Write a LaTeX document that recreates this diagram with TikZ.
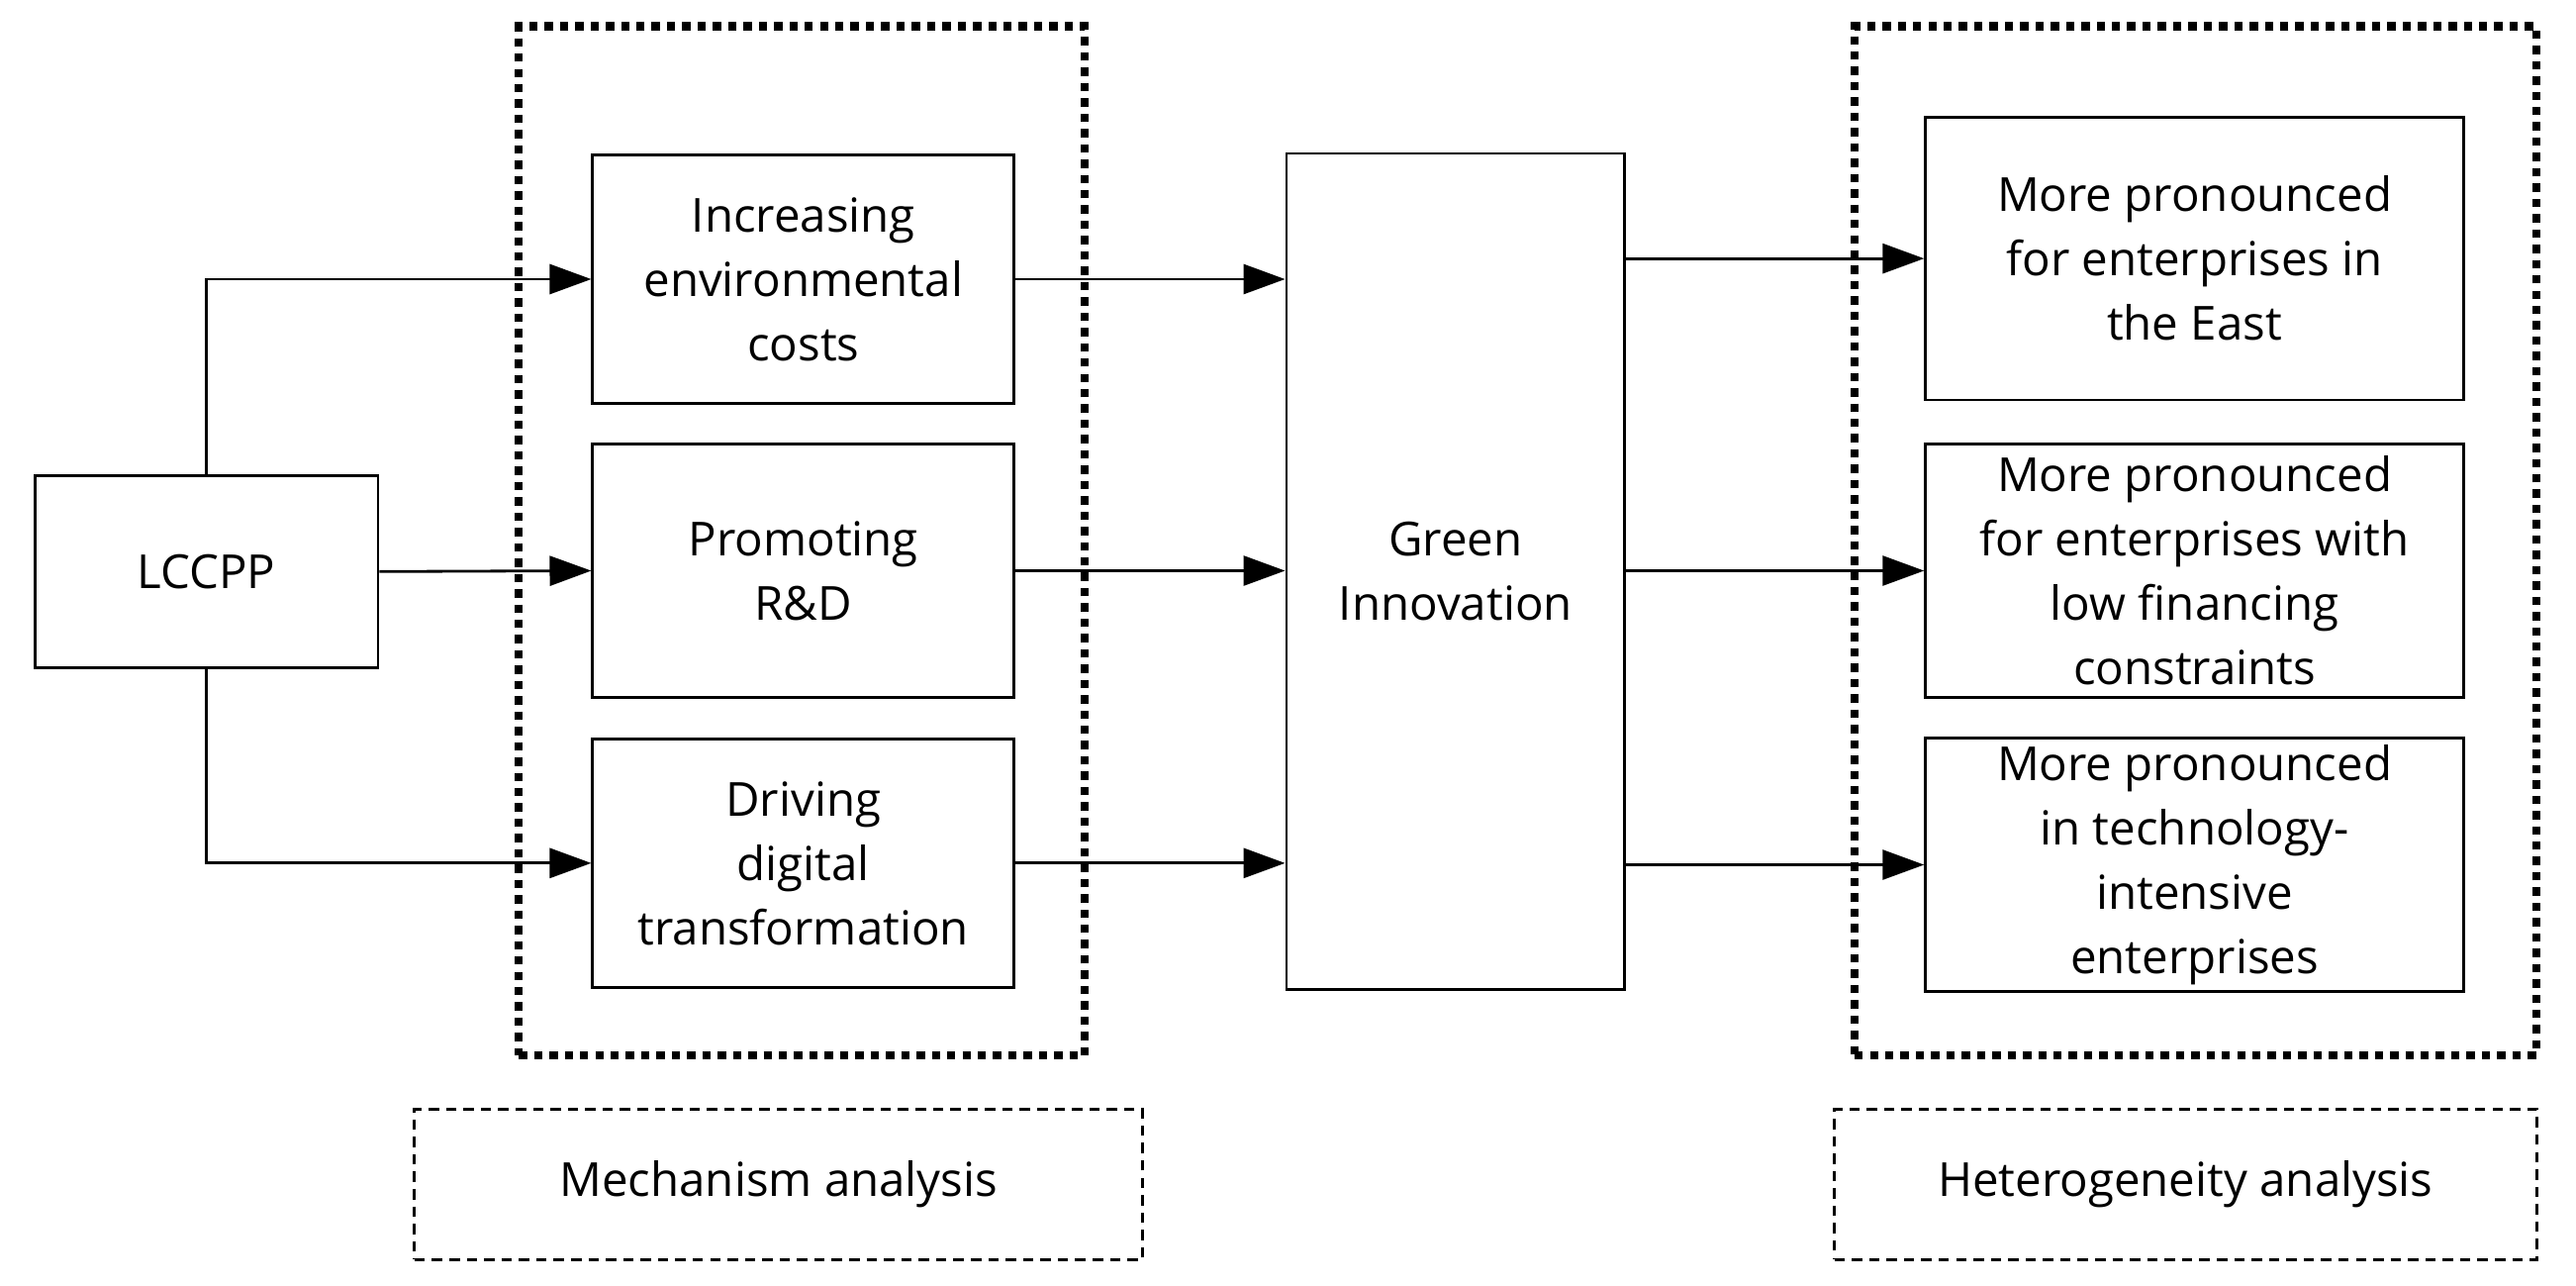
\documentclass[tikz,border=0pt]{standalone}
\usepackage{fontspec}
\setmainfont{Open Sans}
\usetikzlibrary{positioning, arrows.meta}
\begin{document}
\begin{tikzpicture}[x=0.01669cm, y=-0.01669cm,
    box/.style={draw, thick, rectangle, align=center, inner sep=2pt,
                font=\fontsize{13.5}{18.5}\selectfont},
    group/.style={draw, line width=2.4pt, dotted},
    tag/.style={draw, thick, densely dashed, minimum width=7.3cm, minimum height=1.52cm,
                font=\fontsize{13.5}{18.5}\selectfont},
    flow/.style={thick, -{Triangle[length=0.42cm, width=0.3cm]}},
]
\useasboundingbox (0,0) rectangle (1560,778);

% Groups
\node[group, minimum width=5.72cm, minimum height=10.4cm] (mechgrp) at (485.5,327.5) {};
\node[group, minimum width=6.89cm, minimum height=10.4cm] (hetgrp) at (1329.5,327.5) {};

% Main nodes
\node[box, minimum width=3.47cm, minimum height=1.94cm] (lccpp) at (125,346) {LCCPP};
\node[box, minimum width=4.26cm, minimum height=2.51cm] (cost) at (486.5,169)
  {Increasing\\environmental\\costs};
\node[box, minimum width=4.26cm, minimum height=2.56cm] (rd) at (486.5,345.5)
  {Promoting\\R\&D};
\node[box, minimum width=4.26cm, minimum height=2.51cm] (digital) at (486.5,522.5)
  {Driving\\digital\\transformation};
\node[box, minimum width=3.42cm, minimum height=8.45cm] (gi) at (881.5,346)
  {Green\\Innovation};
\node[box, minimum width=5.44cm, minimum height=2.86cm] (east) at (1329,156.5)
  {More pronounced\\for enterprises in\\the East};
\node[box, minimum width=5.44cm, minimum height=2.56cm] (finance) at (1329,345.5)
  {More pronounced\\for enterprises with\\low financing\\constraints};
\node[box, minimum width=5.44cm, minimum height=2.52cm] (tech) at (1329,523.5)
  {More pronounced\\in technology-\\intensive\\enterprises};

% Labels
\node[tag, minimum width=7.36cm] (mechtag) at (471.5,717) {Mechanism analysis};
\node[tag, minimum width=7.1cm] (hettag) at (1323.5,717) {Heterogeneity analysis};

% Connectors
\draw[flow] (lccpp.north) |- (cost.west);
\draw[flow] (lccpp.east) -- (rd.west);
\draw[flow] (lccpp.south) |- (digital.west);
\draw[flow] (cost.east) -- (cost.east -| gi.west);
\draw[flow] (rd.east) -- (rd.east -| gi.west);
\draw[flow] (digital.east) -- (digital.east -| gi.west);
\draw[flow] (gi.east |- east.west) -- (east.west);
\draw[flow] (gi.east |- finance.west) -- (finance.west);
\draw[flow] (gi.east |- tech.west) -- (tech.west);
\end{tikzpicture}
\end{document}
